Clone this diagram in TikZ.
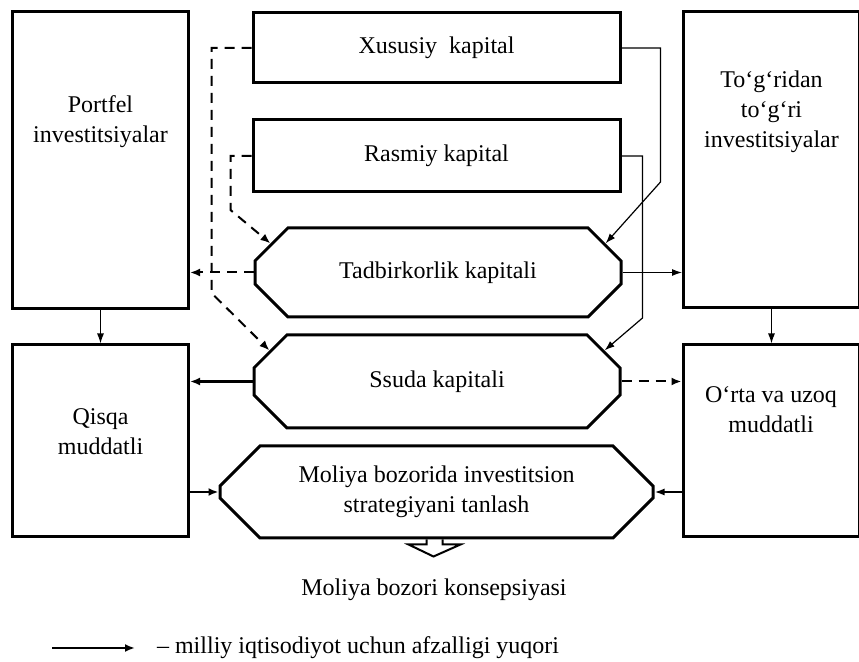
\documentclass[tikz,border=0pt]{standalone}
\usepackage{fontspec}
\setmainfont{Liberation Serif}
\usetikzlibrary{arrows.meta, positioning, shapes.misc, calc}
\tikzset{
    box/.style={
        draw,
        line width=1.5pt,
        minimum width=88pt,
        inner sep=0pt
    },
    capbox/.style={
        draw,
        line width=1.5pt,
        minimum width=183.5pt,
        minimum height=35pt,
        align=center
    },
    octbox/.style={
        chamfered rectangle,
        chamfered rectangle xsep=12.5pt,
        chamfered rectangle ysep=11pt,
        draw,
        line width=1.5pt,
        inner sep=0pt,
        align=center
    },
    txt/.style={align=center},
    line/.style={-{Latex[length=5pt,width=4pt]}, line width=1.3pt},
    thinline/.style={-{Latex[length=5pt,width=3.5pt]}, line width=0.6pt},
    dashedline/.style={-{Latex[length=5pt,width=4pt]}, line width=1pt, dash pattern=on 5pt off 3.5pt},
    every node/.style={font=\fontsize{12}{15}\selectfont}
}

\begin{document}
\begin{tikzpicture}[x=0.5pt, y=-0.5pt]
\useasboundingbox (0,0) rectangle (859,662);

% side columns
\node[box, minimum height=148.5pt] (portfel) at (100.5,160.5) {};
\node[txt] (portfeltxt) at (100.5,122) {Portfel\\investitsiyalar};
\node[box, minimum height=148pt] (togri) at (771.5,160) {};
\node[txt] (togritxt) at (771.5,112) {To‘g‘ridan\\to‘g‘ri\\investitsiyalar};
\node[box, minimum height=96pt] (qisqa) at (100.5,441) {};
\node[txt] (qisqatxt) at (100.5,432) {Qisqa\\muddatli};
\node[box, minimum height=96pt] (orta) at (771,441) {};
\node[txt] (ortatxt) at (771,410) {O‘rta va uzoq\\muddatli};

% middle column
\node[capbox] (xususiy) at (436.5,48) {Xususiy\ \ kapital};
\node[capbox, minimum height=36pt] (rasmiy) at (436.5,156) {Rasmiy kapital};
\node[octbox, minimum width=183pt, minimum height=44.5pt] (tadbir) at (438,272.5) {Tadbirkorlik kapitali};
\node[octbox, minimum width=183pt, minimum height=46.5pt] (ssuda) at (437,381.5) {Ssuda kapitali};
\node[octbox, minimum width=216.5pt, minimum height=46pt, inner ysep=-4pt] (moliya) at (436.5,492) {Moliya bozorida investitsion\\strategiyani tanlash};
\node[txt] (konsep) at (434,590) {Moliya bozori konsepsiyasi};

% chamfer points
\coordinate (tadbirnw) at ($(tadbir.before north west)!.5!(tadbir.after north west)$);
\coordinate (tadbirne) at ($(tadbir.before north east)!.5!(tadbir.after north east)$);
\coordinate (ssudanw) at ($(ssuda.before north west)!.5!(ssuda.after north west)$);
\coordinate (ssudane) at ($(ssuda.before north east)!.5!(ssuda.after north east)$);

% dashed links
\draw[dashedline] (xususiy.west) -- ++(-40,0) -- ++(0,245) -- (ssudanw);
\draw[dashedline] (rasmiy.west) -- ++(-21,0) -- ++(0,54) -- (tadbirnw);
\draw[dashedline] (tadbir.west) -- (tadbir.west -| portfel.east);
\draw[dashedline] (ssuda.east) -- (ssuda.east -| orta.west);

% solid links
\draw[thinline] (xususiy.east) -- ++(39,0) -- ++(0,134) -- (tadbirne);
\draw[thinline] (rasmiy.east) -- ++(21,0) -- ++(0,162) -- (ssudane);
\draw[thinline] (tadbir.east) -- (tadbir.east -| togri.west);
\draw[thinline] (portfel.south) -- (qisqa.north);
\draw[thinline] (togri.south) -- (togri.south |- orta.north);
\draw[line] (ssuda.west) -- (ssuda.west -| qisqa.east);
\draw[line] (qisqa.east |- moliya.west) -- (moliya.west);
\draw[thinline, line width=0.9pt] (orta.west |- moliya.east) -- (moliya.east);

% open arrow to the concept
\draw[line width=1pt, shift={(moliya.south)}] (-10,0) -- (-10,5) -- (-28,5) -- (-3,17) -- (24,5) -- (6,5) -- (6,0);

% legend
\node[anchor=west] (legend) at (150,648) {– milliy iqtisodiyot uchun afzalligi yuqori};
\draw[line] ($(legend.west)+(-98,0)$) -- ($(legend.west)+(-15,0)$);
\end{tikzpicture}
\end{document}
